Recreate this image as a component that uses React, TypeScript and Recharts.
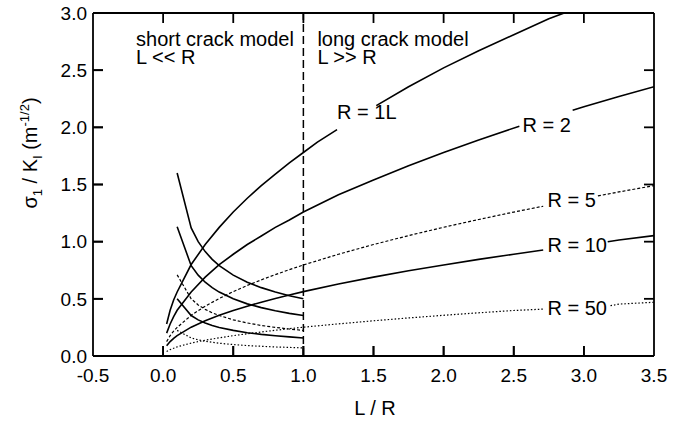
import React from 'react';
import { LineChart, Line, XAxis, YAxis, ReferenceLine, ReferenceDot } from 'recharts';

const xTicks = [-0.5, 0, 0.5, 1, 1.5, 2, 2.5, 3, 3.5];
const yTicks = [0, 0.5, 1, 1.5, 2, 2.5, 3];

// rising curves (long crack model), split where the labels interrupt them
const r1RiseA = [[0.025, 0.28], [0.05, 0.4], [0.075, 0.49], [0.1, 0.56], [0.2, 0.8], [0.3, 0.975], [0.4, 1.125], [0.5, 1.26], [0.6, 1.38], [0.7, 1.49], [0.8, 1.59], [0.9, 1.69], [1.0, 1.78], [1.1, 1.87], [1.24, 1.98]];
const r1RiseB = [[1.52, 2.19], [1.75, 2.355], [2.0, 2.52], [2.25, 2.67], [2.5, 2.81], [2.75, 2.95], [2.86, 3.0]];
const r2RiseA = [[0.025, 0.2], [0.05, 0.28], [0.075, 0.345], [0.1, 0.4], [0.2, 0.56], [0.3, 0.69], [0.4, 0.8], [0.5, 0.89], [0.6, 0.975], [0.7, 1.05], [0.8, 1.125], [0.9, 1.19], [1.0, 1.26], [1.25, 1.41], [1.5, 1.54], [1.75, 1.665], [2.0, 1.78], [2.25, 1.89], [2.54, 2.01]];
const r2RiseB = [[2.92, 2.15], [3.0, 2.18], [3.25, 2.27], [3.5, 2.355]];
const r5RiseA = [[0.025, 0.126], [0.05, 0.178], [0.075, 0.218], [0.1, 0.25], [0.2, 0.356], [0.3, 0.436], [0.4, 0.503], [0.5, 0.563], [0.6, 0.617], [0.7, 0.666], [0.8, 0.712], [0.9, 0.755], [1.0, 0.796], [1.25, 0.89], [1.5, 0.975], [1.75, 1.053], [2.0, 1.126], [2.25, 1.194], [2.5, 1.259], [2.71, 1.31]];
const r5RiseB = [[3.1, 1.4], [3.25, 1.435], [3.5, 1.49]];
const r10RiseA = [[0.025, 0.089], [0.05, 0.126], [0.075, 0.154], [0.1, 0.178], [0.2, 0.252], [0.3, 0.308], [0.4, 0.356], [0.5, 0.398], [0.6, 0.436], [0.7, 0.471], [0.8, 0.503], [0.9, 0.534], [1.0, 0.563], [1.25, 0.629], [1.5, 0.69], [1.75, 0.745], [2.0, 0.796], [2.25, 0.845], [2.5, 0.89], [2.71, 0.927]];
const r10RiseB = [[3.17, 1.0], [3.25, 1.015], [3.5, 1.053]];
const r50RiseA = [[0.025, 0.04], [0.05, 0.056], [0.1, 0.08], [0.2, 0.113], [0.3, 0.138], [0.4, 0.159], [0.5, 0.178], [0.6, 0.195], [0.7, 0.21], [0.8, 0.225], [0.9, 0.239], [1.0, 0.252], [1.25, 0.281], [1.5, 0.308], [1.75, 0.333], [2.0, 0.356], [2.25, 0.378], [2.5, 0.398], [2.71, 0.41]];
const r50RiseB = [[3.19, 0.44], [3.25, 0.454], [3.5, 0.47]];

// falling curves (short crack model)
const fallX = [0.1, 0.2, 0.25, 0.3, 0.35, 0.4, 0.5, 0.6, 0.7, 0.8, 0.9, 1.0];
const r1Fall = [1.6, 1.12, 1.0, 0.913, 0.845, 0.79, 0.707, 0.645, 0.598, 0.559, 0.527, 0.5];
const r2Fall = [1.13, 0.79, 0.707, 0.645, 0.598, 0.559, 0.5, 0.456, 0.423, 0.395, 0.373, 0.354];
const r5Fall = [0.71, 0.5, 0.447, 0.408, 0.378, 0.354, 0.316, 0.289, 0.267, 0.25, 0.236, 0.224];
const r10Fall = [0.5, 0.354, 0.316, 0.289, 0.267, 0.25, 0.224, 0.204, 0.189, 0.177, 0.167, 0.158];
const r50Fall = [0.224, 0.158, 0.141, 0.129, 0.12, 0.112, 0.1, 0.091, 0.085, 0.079, 0.075, 0.071];

const curveLabels = ['R = 1L', 'R = 2', 'R = 5', 'R = 10', 'R = 50'];
const regionLabels = [['short crack model', 'L << R'], ['long crack model', 'L >> R']];

const toPts = (arr: number[][]) => arr.map(([x, y]) => ({ x, y }));
const fallPts = (ys: number[]) => fallX.map((x, i) => ({ x, y: ys[i] }));

const SOLID = { strokeWidth: 1.6 };
const DASH = { strokeWidth: 1.2, strokeDasharray: '3 2' };
const DOT = { strokeWidth: 1.2, strokeDasharray: '1.5 2' };
const TICK = { strokeWidth: 1.8 };

const segments: { data: { x: number; y: number }[]; style: any }[] = [
  { data: toPts(r1RiseA), style: SOLID },
  { data: toPts(r1RiseB), style: SOLID },
  { data: toPts(r2RiseA), style: SOLID },
  { data: toPts(r2RiseB), style: SOLID },
  { data: toPts(r5RiseA), style: DASH },
  { data: toPts(r5RiseB), style: DASH },
  { data: toPts(r10RiseA), style: SOLID },
  { data: toPts(r10RiseB), style: SOLID },
  { data: toPts(r50RiseA), style: DOT },
  { data: toPts(r50RiseB), style: DOT },
  { data: fallPts(r1Fall), style: SOLID },
  { data: fallPts(r2Fall), style: SOLID },
  { data: fallPts(r5Fall), style: DASH },
  { data: fallPts(r10Fall), style: SOLID },
  { data: fallPts(r50Fall), style: DOT },
];

// anchor (left, baseline) of each annotation, in data units
const curveLabelPos = [[1.24, 2.073], [2.562, 1.962], [2.74, 1.306], [2.74, 0.912], [2.74, 0.359]];
const regionLabelPos = [[-0.193, 2.71], [1.1, 2.71]];

// inward tick mark lengths, in data units (about 10 px)
const X_TICK_LEN = 0.0875;
const Y_TICK_LEN = 0.0714;
const X_MIN = -0.5;
const X_MAX = 3.5;
const Y_MIN = 0;
const Y_MAX = 3;

const FONT = '"Liberation Sans", Arial, Helvetica, sans-serif';
const BOTTOM_MARGIN = 13;
const LEFT_MARGIN = 6;
const TICK_PX = 10;

const textLabel = (lines: string[]) => (p: any) => {
  const vb = p.viewBox || {};
  const x = (vb.x || 0) + (vb.width || 0) / 2;
  const y = (vb.y || 0) + (vb.height || 0) / 2;
  return (
    <text x={x} y={y} textAnchor="start" fontSize={20} fill="#000" fontFamily={FONT}>
      {lines.map((l, i) => (
        <tspan key={i} x={x} dy={i === 0 ? 0 : 18}>
          {l}
        </tspan>
      ))}
    </text>
  );
};

const YLabel = (p: any) => {
  const cx = 37;
  const cy = 153;
  return (
    <text
      x={cx}
      y={cy}
      transform={`rotate(-90, ${cx}, ${cy})`}
      textAnchor="middle"
      fontSize={20}
      fill="#000"
      fontFamily={FONT}
    >
      <tspan>σ</tspan>
      <tspan fontSize={13} dy={5}>1</tspan>
      <tspan dy={-5}> / K</tspan>
      <tspan fontSize={13} dy={5}>I</tspan>
      <tspan dy={-5}> (m</tspan>
      <tspan fontSize={13} dy={-8}>-1/2</tspan>
      <tspan dy={8}>)</tspan>
    </text>
  );
};

const XLabel = (p: any) => (
  <text x={375} y={415} textAnchor="middle" fontSize={20} fill="#000" fontFamily={FONT}>
    L / R
  </text>
);

const fmt = (v: number) => v.toFixed(1);

const BottomTick = (p: any) => {
  const { x, y, payload } = p;
  const ay = y - BOTTOM_MARGIN;
  const inner = payload.value > X_MIN && payload.value < X_MAX;
  return (
    <g>
      {inner && <line x1={x} x2={x} y1={ay} y2={ay - TICK_PX} stroke="#000" strokeWidth={1.8} />}
      <text x={x} y={y} dy="0.71em" textAnchor="middle" fontSize={19} fill="#000" fontFamily={FONT}>
        {fmt(payload.value)}
      </text>
    </g>
  );
};

const LeftTick = (p: any) => {
  const { x, y, payload } = p;
  const ax = x + LEFT_MARGIN;
  const inner = payload.value > Y_MIN && payload.value < Y_MAX;
  return (
    <g>
      {inner && <line x1={ax} x2={ax + TICK_PX} y1={y} y2={y} stroke="#000" strokeWidth={1.8} />}
      <text x={x} y={y} dy="0.355em" textAnchor="end" fontSize={19} fill="#000" fontFamily={FONT}>
        {fmt(payload.value)}
      </text>
    </g>
  );
};

const TopTick = (p: any) => {
  const { x, y, payload } = p;
  if (!(payload.value > X_MIN && payload.value < X_MAX)) return <g />;
  return <line x1={x} x2={x} y1={y} y2={y + TICK_PX} stroke="#000" strokeWidth={1.8} />;
};

const RightTick = (p: any) => {
  const { x, y, payload } = p;
  if (!(payload.value > Y_MIN && payload.value < Y_MAX)) return <g />;
  return <line x1={x} x2={x - TICK_PX} y1={y} y2={y} stroke="#000" strokeWidth={1.8} />;
};

const AXIS_LINE = { stroke: '#000', strokeWidth: 1.8 };

export default function App() {
  const innerX = xTicks.filter((t) => t > X_MIN && t < X_MAX);
  const innerY = yTicks.filter((t) => t > Y_MIN && t < Y_MAX);
  const tickSegs: { x: number; y: number }[][] = [
    ...innerX.map((t) => [{ x: t, y: Y_MIN }, { x: t, y: Y_MIN + X_TICK_LEN }]),
    ...innerX.map((t) => [{ x: t, y: Y_MAX }, { x: t, y: Y_MAX - X_TICK_LEN }]),
    ...innerY.map((t) => [{ x: X_MIN, y: t }, { x: X_MIN + Y_TICK_LEN, y: t }]),
    ...innerY.map((t) => [{ x: X_MAX - Y_TICK_LEN, y: t }, { x: X_MAX, y: t }]),
  ];
  return (
    <div style={{ position: 'absolute', left: 0, top: 0, width: 673, height: 422, background: '#fff', fontFamily: FONT }}>
      <LineChart width={673} height={422} margin={{ top: 13, right: 19, bottom: 0, left: 0 }}>
        <XAxis
          xAxisId="b"
          type="number"
          dataKey="x"
          domain={[X_MIN, X_MAX]}
          allowDataOverflow
          ticks={xTicks}
          interval={0}
          height={66}
          axisLine={AXIS_LINE}
          tickLine={false}
          tickSize={0}
          tickMargin={BOTTOM_MARGIN}
          tick={<BottomTick />}
          label={<XLabel />}
        />
        <XAxis
          xAxisId="t"
          orientation="top"
          type="number"
          dataKey="x"
          domain={[X_MIN, X_MAX]}
          allowDataOverflow
          ticks={xTicks}
          interval={0}
          height={0}
          axisLine={AXIS_LINE}
          tickLine={false}
          tickSize={0}
          tickMargin={0}
          tick={<TopTick />}
        />
        <YAxis
          yAxisId="l"
          type="number"
          domain={[Y_MIN, Y_MAX]}
          allowDataOverflow
          ticks={yTicks}
          interval={0}
          width={93}
          axisLine={AXIS_LINE}
          tickLine={false}
          tickSize={0}
          tickMargin={LEFT_MARGIN}
          tick={<LeftTick />}
          label={<YLabel />}
        />
        <YAxis
          yAxisId="r"
          orientation="right"
          type="number"
          domain={[Y_MIN, Y_MAX]}
          allowDataOverflow
          ticks={yTicks}
          interval={0}
          width={0}
          axisLine={AXIS_LINE}
          tickLine={false}
          tickSize={0}
          tickMargin={0}
          tick={<RightTick />}
        />
        <ReferenceLine xAxisId="b" yAxisId="l" y={Y_MAX} ifOverflow="visible" stroke="#000" strokeWidth={1.8} />
        <ReferenceLine xAxisId="b" yAxisId="l" x={X_MAX} ifOverflow="visible" stroke="#000" strokeWidth={1.8} />
        <ReferenceLine
          xAxisId="b"
          yAxisId="l"
          x={1}
          stroke="#000"
          strokeWidth={1.5}
          strokeDasharray="8 4"
        />
        {tickSegs.map((d, i) => (
          <Line
            key={'tk' + i}
            xAxisId="b"
            yAxisId="l"
            data={d}
            dataKey="y"
            type="linear"
            stroke="#000"
            dot={false}
            activeDot={false}
            isAnimationActive={false}
            {...TICK}
          />
        ))}
        {segments.map((s, i) => (
          <Line
            key={i}
            xAxisId="b"
            yAxisId="l"
            data={s.data}
            dataKey="y"
            type="linear"
            stroke="#000"
            dot={false}
            activeDot={false}
            isAnimationActive={false}
            {...s.style}
          />
        ))}
        {curveLabels.map((t, i) => (
          <ReferenceDot
            key={'c' + i}
            xAxisId="b"
            yAxisId="l"
            x={curveLabelPos[i][0]}
            y={curveLabelPos[i][1]}
            r={1}
            fill="none"
            stroke="none"
            label={textLabel([t])}
          />
        ))}
        {regionLabels.map((t, i) => (
          <ReferenceDot
            key={'r' + i}
            xAxisId="b"
            yAxisId="l"
            x={regionLabelPos[i][0]}
            y={regionLabelPos[i][1]}
            r={1}
            fill="none"
            stroke="none"
            label={textLabel(t)}
          />
        ))}
      </LineChart>
    </div>
  );
}
